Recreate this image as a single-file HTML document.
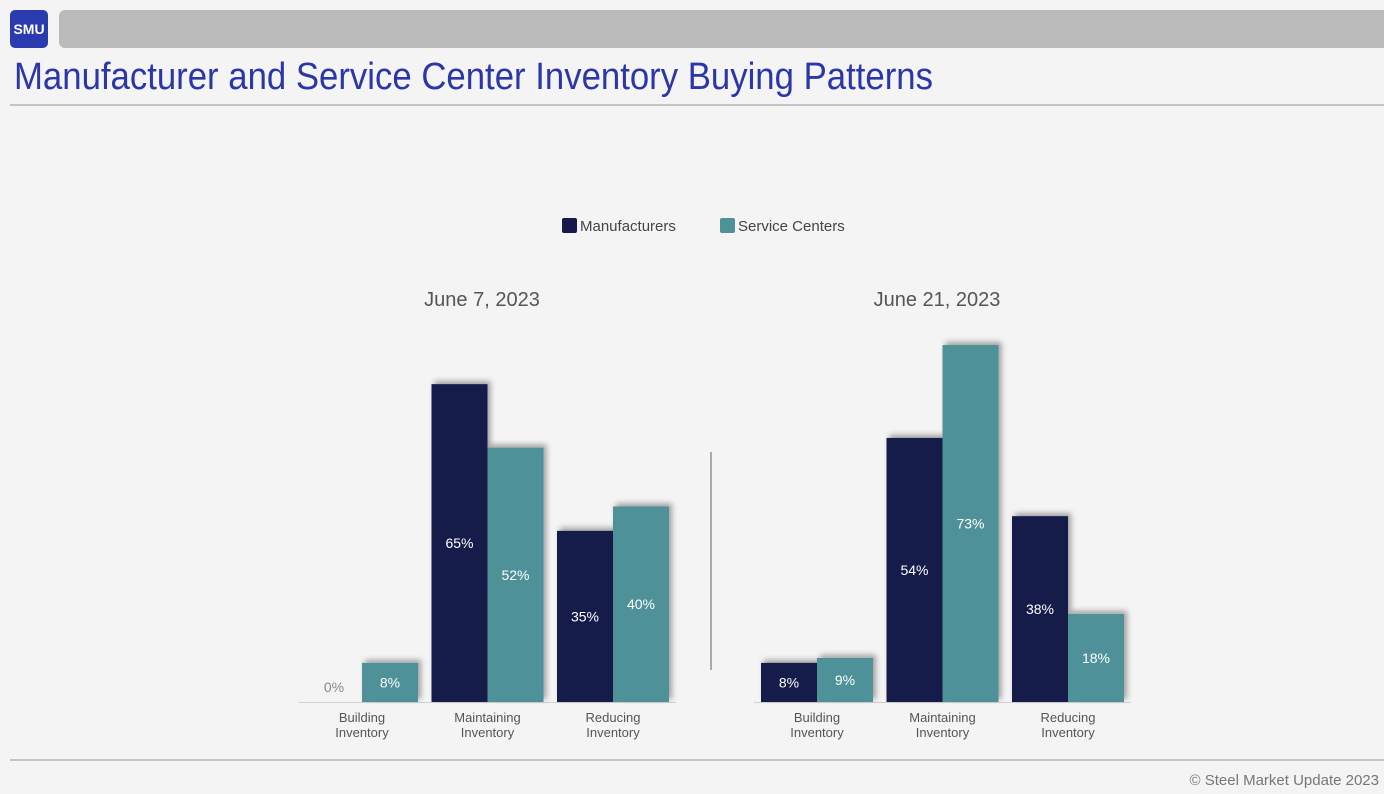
<!DOCTYPE html>
<html><head><meta charset="utf-8"><style>
body{margin:0;width:1384px;height:794px;background:#f4f4f4;font-family:"Liberation Sans",sans-serif;position:relative;overflow:hidden}
.abs{position:absolute}
</style></head><body>
<div class="abs" style="left:10px;top:10px;width:38px;height:38px;background:#2a3bb0;border-radius:5px;color:#fff;font-weight:bold;font-size:14px;line-height:38px;text-align:center">SMU</div>
<div class="abs" style="left:59px;top:10px;width:1330px;height:38px;background:#bbbbbb;border-radius:6px"></div>
<div class="abs" style="left:14px;top:56px;font-size:38px;color:#2b36a8;transform:scaleX(0.914);transform-origin:left">Manufacturer and Service Center Inventory Buying Patterns</div>
<div class="abs" style="left:10px;top:104px;width:1374px;height:2px;background:#c4c4c4"></div>
<div class="abs" style="left:10px;top:759px;width:1374px;height:2px;background:#c4c4c4"></div>
<div class="abs" style="right:5px;top:772px;font-size:15px;color:#777">© Steel Market Update 2023</div>
<svg class="abs" style="left:0;top:0" width="1384" height="794" id="chart">
<defs><filter id="sh" x="-20%" y="-20%" width="140%" height="140%"><feDropShadow dx="3" dy="-3" stdDeviation="3" flood-color="#000" flood-opacity="0.35"/></filter></defs>
</svg>
<script>
const categories=["Building Inventory","Maintaining Inventory","Reducing Inventory"];
const panelTitles=["June 7, 2023","June 21, 2023"];
const manufacturers1=[0,65,35];
const serviceCenters1=[8,52,40];
const manufacturers2=[8,54,38];
const serviceCenters2=[9,73,18];
const seriesNames=["Manufacturers","Service Centers"];
const colors=["#161a48","#4f9199"];
const svg=document.getElementById('chart');
const NS="http://www.w3.org/2000/svg";
function mk(t,a){const e=document.createElementNS(NS,t);for(const k in a)e.setAttribute(k,a[k]);svg.appendChild(e);return e;}
const base=702,scale=4.89,bw=56;
function y(v){return base-v*scale;}
seriesNames.forEach((n,i)=>{const x=[562,720][i];
const r=mk('rect',{x:x,y:218,width:15,height:15,rx:2,fill:colors[i]});


const t=mk('text',{x:x+18,y:231,'font-size':15,fill:'#444'});t.textContent=n;

});
const panels=[{c0:362,data:[manufacturers1,serviceCenters1]},{c0:817,data:[manufacturers2,serviceCenters2]}];
panels.forEach((p,pi)=>{
 const tt=mk('text',{x:p.c0+120,y:306,'font-size':20,fill:'#555','text-anchor':'middle'});tt.textContent=panelTitles[pi];
 
 
 const ax=mk('line',{x1:p.c0-63,x2:p.c0+314,y1:base+0.5,y2:base+0.5,stroke:'#d0d0d0'});
 
 
 categories.forEach((c,ci)=>{
  const cx=p.c0+ci*125.5;
  p.data.forEach((s,si)=>{
   const v=s[ci],x=cx-bw+si*bw;
   const r=mk('rect',{x:x,y:y(v),width:bw,height:v*scale,fill:colors[si],filter:'url(#sh)'});
   
   
   const ly=v===0?base-10:y(v)+v*scale/2+5;
   const t=mk('text',{x:x+bw/2,y:ly,'font-size':14,fill:v===0?'#888':'#fff','text-anchor':'middle'});t.textContent=v+'%';
   
   
  });
  const w=c.split(' ');
  w.forEach((ww,wi)=>{const t=mk('text',{x:cx,y:722+wi*15,'font-size':13,fill:'#555','text-anchor':'middle'});t.textContent=ww;
  
  });
 });
});
const d=mk('line',{x1:711,x2:711,y1:452,y2:670,stroke:'#aaa','stroke-width':2});


</script>
</body></html>
